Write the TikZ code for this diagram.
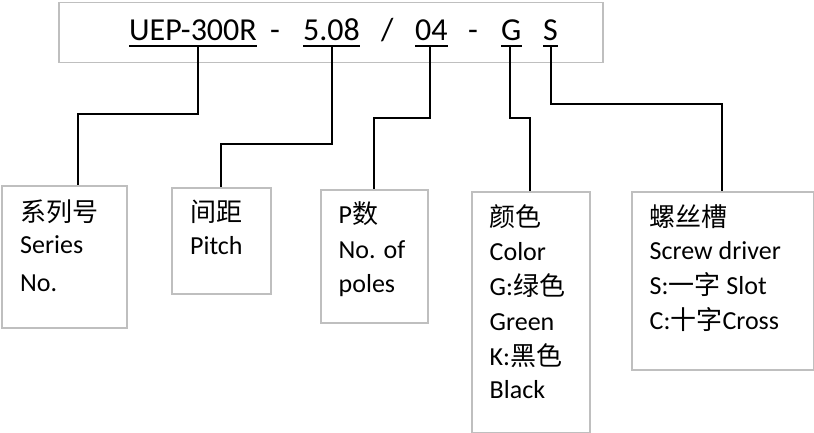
\documentclass[tikz,border=0pt]{standalone}
\usepackage{fontspec}
\setmainfont{Carlito}
\newfontfamily\cjk{Noto Sans CJK SC}
\begin{document}
\begin{tikzpicture}[x=1pt,y=-1pt,
  box/.style={draw=black!25, line width=1.5pt, inner sep=0pt, anchor=north west},
  conn/.style={line width=2pt},
  uline/.style={line width=2pt},
  code/.style={inner sep=0pt, anchor=base west, font=\fontsize{32}{38}\selectfont},
  txt/.style={inner sep=0pt, anchor=base west, font=\fontsize{26}{30}\selectfont}]
\useasboundingbox (0,0) rectangle (814,433);
% top code box
\node[box, minimum width=544pt, minimum height=60pt] (top) at (58,2) {};
\node[code] (uep) at (129,41) {UEP-300R};
\node[code] (d1) at (270,41) {-};
\node[code] (pitch) at (303,41) {5.08};
\node[code] (sl) at (381,41) {/};
\node[code] (poles) at (415,41) {04};
\node[code] (d2) at (468,41) {-};
\node[code] (col) at (501,41) {G};
\node[code] (scr) at (543,41) {S};
\foreach \n in {uep,pitch,poles,col,scr}
  \draw[uline] ([yshift=-5pt]\n.base west) -- ([yshift=-5pt]\n.base east);
% boxes
\node[box, minimum width=125pt, minimum height=142pt] (b1) at (1,185) {};
\node[box, minimum width=99pt, minimum height=106pt] (b2) at (171,187) {};
\node[box, minimum width=107pt, minimum height=133pt] (b3) at (320,189) {};
\node[box, minimum width=118pt, minimum height=241pt] (b4) at (471,191) {};
\node[box, minimum width=182pt, minimum height=178pt] (b5) at (631,191) {};
\coordinate (b1t) at ([xshift=77pt]b1.north west);
\coordinate (b2t) at ([xshift=50pt]b2.north west);
\coordinate (b3t) at ([xshift=54pt]b3.north west);
\coordinate (b4t) at ([xshift=59pt]b4.north west);
\coordinate (b5t) at ([xshift=91pt]b5.north west);
% connectors
\draw[conn] ([xshift=5pt,yshift=-5pt]uep.base) |- (b1t |- 0,114) -- (b1t);
\draw[conn] ([yshift=-5pt]pitch.base) |- (b2t |- 0,144) -- (b2t);
\draw[conn] ([xshift=-1.5pt,yshift=-5pt]poles.base) |- (b3t |- 0,118) -- (b3t);
\draw[conn] ([xshift=-1.5pt,yshift=-5pt]col.base) |- (b4t |- 0,118) -- (b4t);
\draw[conn] ([yshift=-5pt]scr.base) |- (b5t |- 0,104) -- (b5t);
% box texts
\node[txt] (b1a) at (20,221) {\cjk 系列号};
\node[txt] (b1b) at (20,253) {Series};
\node[txt] (b1c) at (20,291) {No.};
\node[txt] (b2a) at (190,221) {\cjk 间距};
\node[txt] (b2b) at (190,254) {Pitch};
\node[txt] (b3a) at (338.5,223) {P{\cjk 数}};
\node[txt] (b3b) at (338.5,258) {No. of};
\node[txt] (b3c) at (338.5,292) {poles};
\node[txt] (b4a) at (489.5,226) {\cjk 颜色};
\node[txt] (b4b) at (489.5,260) {Color};
\node[txt] (b4c) at (489.5,295) {G:{\cjk 绿色}};
\node[txt] (b4d) at (489.5,330) {Green};
\node[txt] (b4e) at (489.5,365) {K:{\cjk 黑色}};
\node[txt] (b4f) at (489.5,398) {Black};
\node[txt] (b5a) at (649.5,226) {\cjk 螺丝槽};
\node[txt] (b5b) at (649.5,259) {Screw driver};
\node[txt] (b5c) at (649.5,294) {S:{\cjk 一字} Slot};
\node[txt] (b5d) at (649.5,329) {C:{\cjk 十字}Cross};
\end{tikzpicture}
\end{document}
